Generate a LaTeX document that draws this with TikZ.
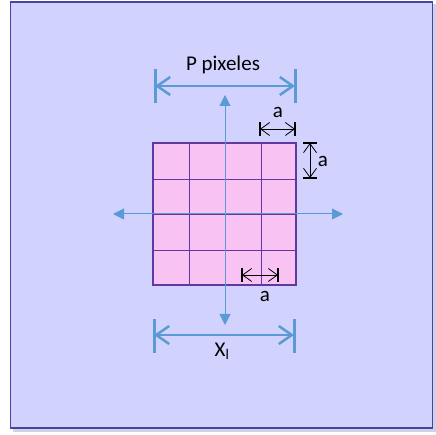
\documentclass[tikz,border=0pt]{standalone}
\usepackage{fontspec}
\setmainfont{Carlito}
\usetikzlibrary{arrows.meta}
\definecolor{bg}{RGB}{210,210,255}
\definecolor{bgborder}{RGB}{70,70,160}
\definecolor{cell}{RGB}{248,194,242}
\definecolor{gridc}{RGB}{96,56,160}
\definecolor{axisc}{RGB}{91,155,213}
\tikzset{
  lbl/.style={font=\fontsize{21}{23}\selectfont, inner sep=0pt},
  bigdim/.style={draw=axisc, line width=2.5pt,
    {Straight Barb[length=13pt,width=18pt,line width=2.5pt]}-{Straight Barb[length=13pt,width=18pt,line width=2.5pt]}},
  bigbar/.style={draw=axisc, line width=3pt},
  axisline/.style={draw=axisc, line width=1pt,
    {Triangle[length=11pt,width=11pt]}-{Triangle[length=11pt,width=11pt]}},
  smalldim/.style={draw=black, line width=0.8pt,
    {Straight Barb[length=9pt,width=13pt,line width=0.8pt]}-{Straight Barb[length=9pt,width=13pt,line width=0.8pt]}},
  smallbar/.style={draw=black, line width=1.2pt},
  gridbox/.style={draw=gridc, fill=cell, line width=2pt, minimum width=143pt, minimum height=142pt, inner sep=0pt},
  gridline/.style={draw=gridc, line width=0.8pt}
}
\begin{document}
\begin{tikzpicture}[x=1pt,y=-1pt]
\useasboundingbox (0,0) rectangle (436,435);
% background panel with soft shadow
\fill[bgborder!25] (13,4) rectangle (436,432);
\node[draw=bgborder, fill=bg, line width=1.6pt, minimum width=422pt, minimum height=426pt, inner sep=0pt] (panel) at (221.5,215) {};
% grid
\node[gridbox] (grid) at (224.5,214) {};
\foreach \x in {189,225,261} \draw[gridline] (\x,143) -- (\x,285);
\foreach \y in {179,214,250} \draw[gridline] (153,\y) -- (296,\y);
\node[gridbox, fill=none] (gridframe) at (224.5,214) {};
% axes
\coordinate (axT) at (225,95);
\coordinate (axB) at (225,325);
\coordinate (axL) at (113,214);
\coordinate (axR) at (343,214);
\draw[axisline] (axT) -- (axB);
\draw[axisline] (axL) -- (axR);
% P pixeles dimension
\coordinate (pL) at (155,86);
\coordinate (pR) at (295,86);
\draw[bigbar] (155,69) -- (155,103);
\draw[bigbar] (295,69) -- (295,103);
\draw[bigdim] (pL) -- (pR);
\node[lbl] (ptext) at (223,65) {P pixeles};
% X_l dimension
\coordinate (xL) at (154,335);
\coordinate (xR) at (294,335);
\draw[bigbar] (154,319) -- (154,353);
\draw[bigbar] (294,319) -- (294,353);
\draw[bigdim] (xL) -- (xR);
\node[lbl] (xtext) at (222,351) {X\textsubscript{l}};
% small a dimensions
\coordinate (t1) at (260,129);
\coordinate (t2) at (295,129);
\draw[smallbar] (260,122) -- (260,136);
\draw[smallbar] (295,122) -- (295,136);
\draw[smalldim] (t1) -- (t2);
\node[lbl] (ta) at (278,112) {a};
\coordinate (r1) at (310,143);
\coordinate (r2) at (310,178);
\draw[smallbar] (303,143) -- (317,143);
\draw[smallbar] (303,178) -- (317,178);
\draw[smalldim] (r1) -- (r2);
\node[lbl] (ra) at (323,161) {a};
\coordinate (b1) at (242,275);
\coordinate (b2) at (278,275);
\draw[smallbar] (242,268) -- (242,282);
\draw[smallbar] (278,268) -- (278,282);
\draw[smalldim] (b1) -- (b2);
\node[lbl] (ba) at (265,296) {a};
\end{tikzpicture}
\end{document}
